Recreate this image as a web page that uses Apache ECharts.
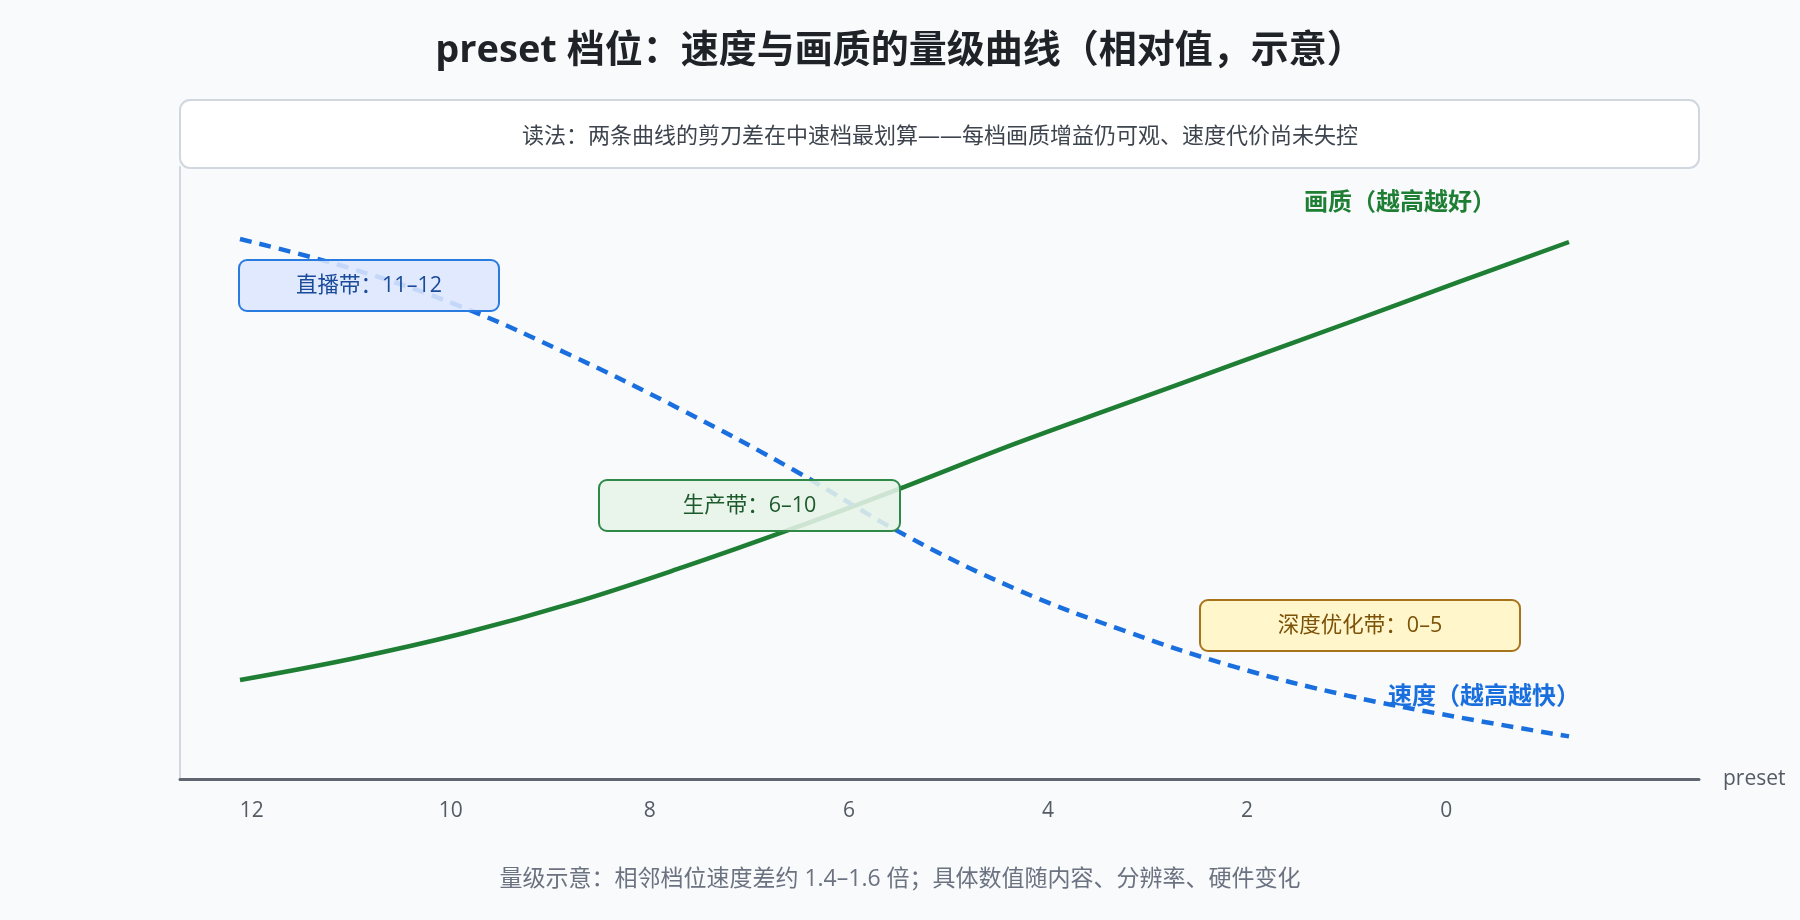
<!DOCTYPE html>
<html>
<head>
<meta charset="utf-8">
<script src="https://cdn.jsdelivr.net/npm/echarts@6/dist/echarts.min.js"></script>
<style>
html,body{margin:0;padding:0;background:#f8fafc;}
#chart{width:1800px;height:920px;}
</style>
</head>
<body>
<div id="chart"></div>
<script>
// ---- data ----
const presets = ['12','11','10','9','8','7','6','5','4','3','2','1','0'];
const quality = [16.5, 20.0, 24.2, 29.3, 35.3, 41.8, 48.7, 55.9, 62.6, 69.3, 76.0, 82.8, 89.5];
const speed   = [90.0, 85.1, 78.7, 70.5, 61.4, 51.5, 40.7, 31.7, 24.6, 18.6, 13.9, 10.3, 7.1];
const tickLabels = [12, 10, 8, 6, 4, 2, 0];

const FONT = '"Open Sans", "Noto Sans CJK SC", "Noto Sans", sans-serif';
const chart = echarts.init(document.getElementById('chart'));

function band(x, y, w, h, text, fill, stroke, color) {
  return {
    type: 'group', z: 100,
    children: [
      { type: 'rect', z: 100, shape: { x: x, y: y, width: w, height: h, r: 8 },
        style: { fill: fill, stroke: stroke, lineWidth: 2 } },
      { type: 'text', z: 101, style: { text: text, x: x + w / 2, y: y + h / 2, fill: color,
        fontSize: 21.5, fontFamily: FONT, align: 'center', verticalAlign: 'middle' } }
    ]
  };
}

chart.setOption({
  backgroundColor: '#f8fafc',
  animation: false,
  title: {
    text: 'preset 档位：速度与画质的量级曲线（相对值，示意）',
    left: 'center', top: 27,
    textStyle: { fontSize: 38, fontWeight: 'bold', color: '#1f2328', fontFamily: FONT }
  },
  grid: [
    { left: 180, right: 101, top: 167, bottom: 141 },
    { left: 240, right: 231, top: 167, bottom: 141 }
  ],
  xAxis: [
    {
      gridIndex: 0, type: 'value', inverse: true, min: -2.54, max: 12.72,
      name: 'preset', nameLocation: 'start', nameGap: 24,
      nameTextStyle: { fontSize: 21, color: '#555b65', fontFamily: FONT },
      axisLine: { show: true, onZero: false, lineStyle: { color: '#5f6670', width: 3 } },
      axisTick: { show: false },
      splitLine: { show: false },
      axisLabel: { customValues: tickLabels, margin: 22, fontSize: 21, color: '#555b65', fontFamily: FONT }
    },
    {
      gridIndex: 1, type: 'category', data: presets, boundaryGap: false, show: false
    }
  ],
  yAxis: [
    {
      gridIndex: 0, type: 'value', min: 0, max: 102,
      axisLine: { show: true, onZero: false, lineStyle: { color: '#d0d7de', width: 2 } },
      axisTick: { show: false }, axisLabel: { show: false }, splitLine: { show: false }
    },
    {
      gridIndex: 1, type: 'value', min: 0, max: 102, show: false, splitLine: { show: false }
    }
  ],
  series: [
    {
      name: '画质', type: 'line', xAxisIndex: 1, yAxisIndex: 1, data: quality,
      smooth: 0.4, symbol: 'none',
      lineStyle: { color: '#1e7e34', width: 4.5 }
    },
    {
      name: '速度', type: 'line', xAxisIndex: 1, yAxisIndex: 1, data: speed,
      smooth: 0.4, symbol: 'none',
      lineStyle: { color: '#1a6fdf', width: 4.5, type: [12, 8] }
    }
  ],
  graphic: [
    { type: 'rect', z: 50, shape: { x: 180, y: 100, width: 1519, height: 68, r: 10 },
      style: { fill: '#ffffff', stroke: '#d0d7de', lineWidth: 2 } },
    { type: 'text', z: 51, style: {
        text: '读法：两条曲线的剪刀差在中速档最划算——每档画质增益仍可观、速度代价尚未失控',
        x: 940, y: 137, fill: '#3d444d', fontSize: 22, fontFamily: FONT,
        align: 'center', verticalAlign: 'middle' } },
    band(239, 260, 260, 51, '直播带：11–12', 'rgba(220,230,253,0.88)', '#2a7be0', '#1a4a9a'),
    band(599, 480, 301, 51, '生产带：6–10', 'rgba(230,243,232,0.88)', '#2f8a48', '#1d5a2b'),
    band(1200, 600, 320, 51, '深度优化带：0–5', 'rgba(255,246,200,0.95)', '#a8741a', '#7c5208'),
    { type: 'text', z: 60, style: {
        text: '画质（越高越好）', x: 1400, y: 203, fill: '#1e7e34', fontSize: 24, fontWeight: 'bold',
        fontFamily: FONT, align: 'center', verticalAlign: 'middle' } },
    { type: 'text', z: 60, style: {
        text: '速度（越高越快）', x: 1484, y: 697, fill: '#1a6fdf', fontSize: 24, fontWeight: 'bold',
        fontFamily: FONT, align: 'center', verticalAlign: 'middle' } },
    { type: 'text', z: 60, style: {
        text: '量级示意：相邻档位速度差约 1.4–1.6 倍；具体数值随内容、分辨率、硬件变化',
        x: 900, y: 879, fill: '#6b7280', fontSize: 23, fontFamily: FONT,
        align: 'center', verticalAlign: 'middle' } }
  ]
});
</script>
</body>
</html>
